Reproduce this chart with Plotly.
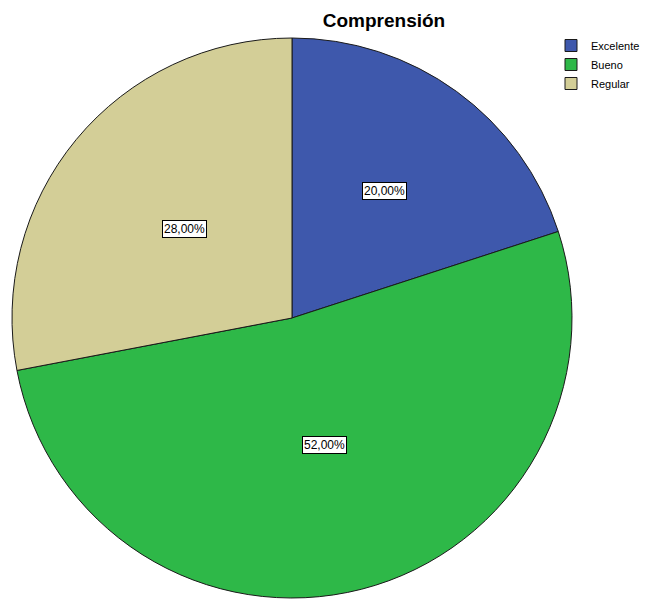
import numpy as np
import plotly.graph_objects as go

labels = ["Excelente", "Bueno", "Regular"]
values = [20.0, 52.0, 28.0]
colors = ["#3e58ac", "#2eb848", "#d3ce97"]

W, H = 652, 599
off = 8  # the page shows the figure shifted by 8px right/down
cx, cy, r = 292 - off, 318 - off, 280

fig = go.Figure(
    go.Pie(
        labels=labels,
        values=values,
        sort=False,
        direction="clockwise",
        rotation=0,
        marker=dict(colors=colors, line=dict(color="#1a1a1a", width=1)),
        textinfo="none",
        hoverinfo="label+percent",
        domain=dict(x=[(cx - r) / W, (cx + r) / W], y=[1 - (cy + r) / H, 1 - (cy - r) / H]),
    )
)

# percentage labels in boxes, placed at slice middles
total = sum(values)
start = 0.0
lab_r = [0.56, 0.47, 0.5]
for v, lr in zip(values, lab_r):
    mid = np.radians((start + v / 2) / total * 360)
    start += v
    px = cx + lr * r * np.sin(mid)
    py = cy - lr * r * np.cos(mid)
    fig.add_annotation(
        x=px / W, y=1 - py / H, xref="paper", yref="paper",
        xanchor="center", yanchor="middle",
        text=f"{v:.2f}%".replace(".", ","),
        showarrow=False,
        font=dict(family="Liberation Sans, Arial", size=12, color="black"),
        bgcolor="white", bordercolor="black", borderwidth=1, borderpad=1,
    )

fig.update_layout(
    width=W, height=H,
    margin=dict(l=0, r=0, t=0, b=0),
    paper_bgcolor="white",
    title=dict(text="<b>Comprensión</b>", x=(384 - off) / W, xanchor="center", y=1 - (20 - off) / H,
               yanchor="middle",
               font=dict(family="Liberation Sans, Arial", size=19, color="black")),
    legend=dict(x=(551 - off) / W, y=1 - (31 - off) / H, xanchor="left", yanchor="top",
                font=dict(family="Liberation Sans, Arial", size=11, color="black"),
                itemwidth=30, tracegroupgap=0, bgcolor="rgba(0,0,0,0)"),
)

fig.write_html("out.html")
